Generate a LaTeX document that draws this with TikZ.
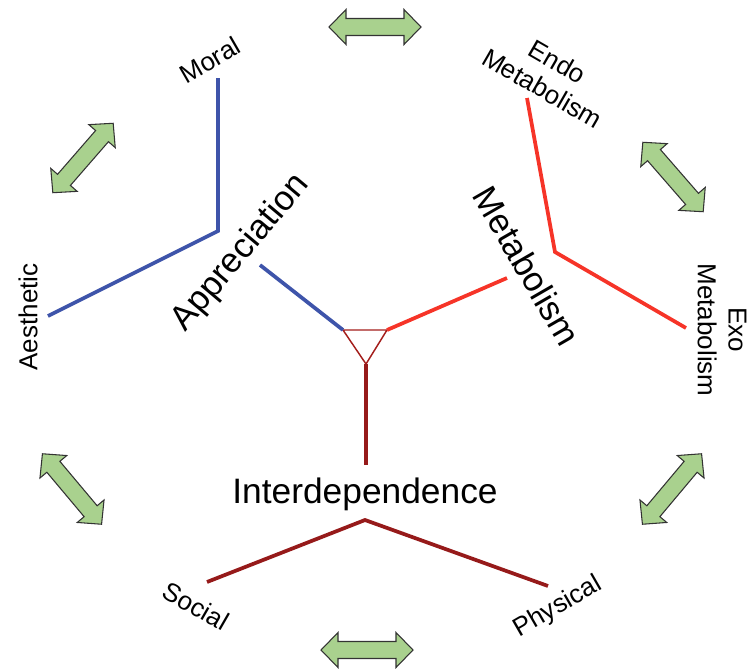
\documentclass[tikz,border=0pt]{standalone}
\usepackage{fontspec}
\setmainfont{Liberation Sans}
\definecolor{apprblue}{RGB}{62,84,170}
\definecolor{metared}{RGB}{246,52,40}
\definecolor{interred}{RGB}{150,26,26}
\definecolor{linkgreen}{RGB}{169,209,142}
\begin{document}
\begin{tikzpicture}[x=0.75pt,y=-0.75pt,
  branch/.style={line width=2.8pt},
  biglabel/.style={font=\fontsize{26}{30}\selectfont, inner sep=0pt},
  leaflabel/.style={font=\fontsize{19.5}{23}\selectfont, inner sep=0pt, align=center},
  linkarrow/.style={fill=linkgreen, draw=black!80, line width=0.8pt, line join=miter},
  dblarrow/.pic={\draw[linkarrow] (-46,0) -- (-29,-17.5) -- (-29,-8.5) -- (29,-8.5)
      -- (29,-17.5) -- (46,0) -- (29,17.5) -- (29,8.5) -- (-29,8.5) -- (-29,17.5) -- cycle;}]
\useasboundingbox (0,0) rectangle (749,671);

% central hub triangle
\coordinate (hubL) at (343,330);
\coordinate (hubR) at (387,330);
\coordinate (hubB) at (366,364);
\draw[interred!85!metared, line width=1.1pt, fill=white] (hubL) -- (hubR) -- (hubB) -- cycle;

% spokes to the three headings
\coordinate (apprEnd) at (260,265);
\coordinate (metaEnd) at (507,278);
\coordinate (interEnd) at (366,465);
\draw[branch, apprblue] (hubL) -- (apprEnd);
\draw[branch, metared] (hubR) -- (metaEnd);
\draw[branch, interred] (hubB) -- (interEnd);

% Appreciation branch
\coordinate (moralEnd) at (218,78);
\coordinate (apprFork) at (218,231);
\coordinate (aesthEnd) at (48,316);
\draw[branch, apprblue, line join=miter] (moralEnd) -- (apprFork) -- (aesthEnd);

% Metabolism branch
\coordinate (endoEnd) at (527,98);
\coordinate (metaFork) at (555,252);
\coordinate (exoEnd) at (686,328);
\draw[branch, metared, line join=miter] (endoEnd) -- (metaFork) -- (exoEnd);

% Interdependence branch
\coordinate (socialEnd) at (207,582);
\coordinate (interFork) at (365,520);
\coordinate (physEnd) at (548,586);
\draw[branch, interred, line join=miter] (socialEnd) -- (interFork) -- (physEnd);

% headings
\node[biglabel, rotate=50] (appr) at (241,253) {Appreciation};
\node[biglabel, rotate=-60] (meta) at (527,266) {Metabolism};
\node[biglabel, font=\fontsize{26.5}{30}\selectfont] (inter) at (365,494) {Interdependence};

% leaf labels
\node[leaflabel, rotate=30] (moral) at (210,60) {Moral};
\node[leaflabel, rotate=90] (aesth) at (28,317) {Aesthetic};
\node[leaflabel, rotate=-30] (endo) at (550,75) {Endo\\Metabolism};
\node[leaflabel, rotate=-90] (exo) at (722,330) {Exo\\Metabolism};
\node[leaflabel, rotate=-30] (social) at (196,606) {Social};
\node[leaflabel, rotate=30] (phys) at (558,607) {Physical};

% two-way links between neighbouring leaves
\pic (linkTop) at (375,27) {dblarrow};
\pic[rotate=49] (linkUL) at (83,158) {dblarrow};
\pic[rotate=-49] (linkUR) at (673,177) {dblarrow};
\pic[rotate=-50] (linkLL) at (72,489) {dblarrow};
\pic[rotate=50] (linkLR) at (672,489) {dblarrow};
\pic (linkBot) at (367,650) {dblarrow};
\end{tikzpicture}
\end{document}
